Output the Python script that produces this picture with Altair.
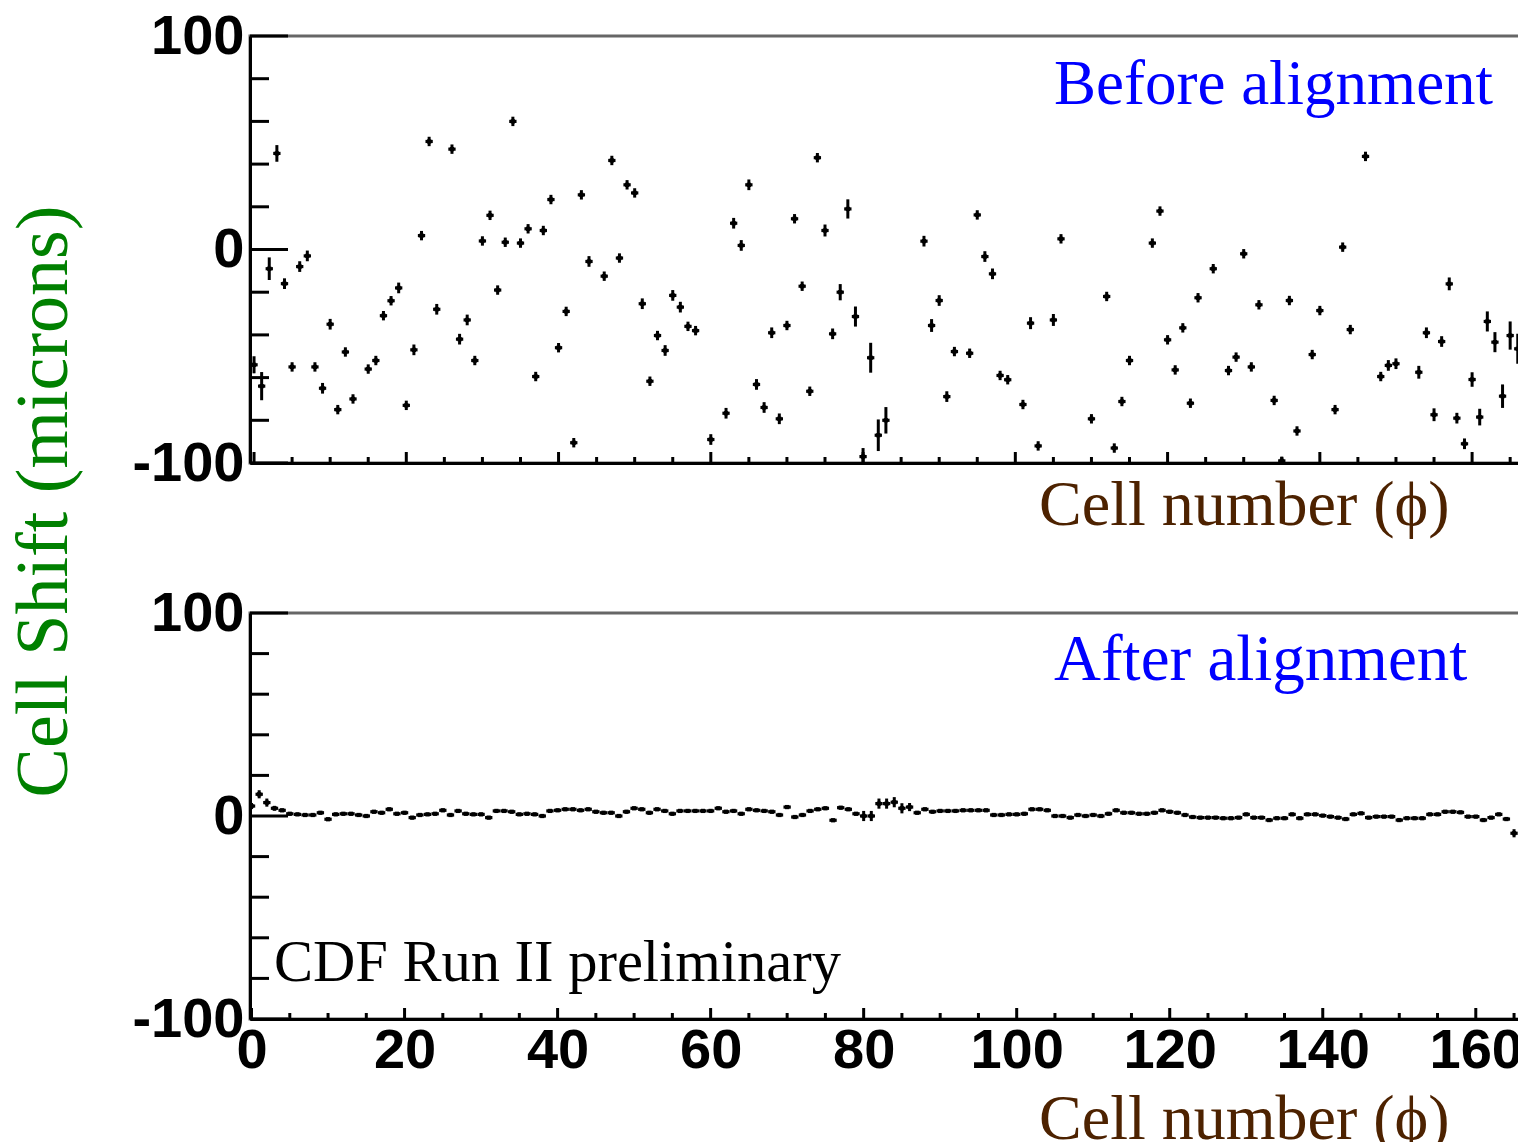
import altair as alt
import pandas as pd

# ---------------- data ----------------
top_cells = list(range(168))
top_shift = [
    -54, -64, -9, 45, -16, -55, -8, -3, -55, -65,
    -35, -75, -48, -70, None, -56, -52, -31, -24, -18,
    -73, -47, 6.5, 50.6, -28, None, 47, -42, -33, -52,
    4, 16, -19, 3.4, 60, 3, 9.7, -59.5, 8.9, 23.4,
    -46, -29, -90.5, 25.6, -5.6, None, -12.5, 41.7, -4, 30.3,
    26.5, -25.4, -61.7, -40.3, -47.3, -21.5, -27, -36, -38, None,
    -89, None, -76.7, 12.3, 1.9, 30.3, -63.2, -74, -39, -79.3,
    -35.6, 14.4, -17.2, -66.4, 43, 8.9, -39.5, -20, 19, -31.4,
    -97, -50.7, -87, -80, None, None, None, None, 3.9, -35.6,
    -23.9, -68.9, -47.8, None, -48.6, 16.2, -3.3, -11.4, -59, -61,
    None, -72.6, -34.5, -92, None, -33, 5, None, None, None,
    -79.3, None, -22, -93, -71.2, -52, None, None, 3, 18,
    -42.3, -56.4, -36.7, -72, -22.6, None, -9, None, -56.7, -50.4,
    -2, -55, -25.9, None, -70.7, -99, -23.9, -85, None, -49.2,
    -28.6, None, -75, 1.1, -37.5, None, 43.6, None, -59.5, -54.3,
    -53.5, None, None, -57.5, -39, -77.4, -43.1, -16.1, -79, -91,
    -60.9, -78.5, -33.7, -43.4, -68.7, -40.3, -46.5, 0,
]
top_err = [
    4, 6.6, 5.3, 3.9, 2.5, 2.2, 2.5, 2.5, 2.2, 2.5,
    2.5, 2.2, 2.2, 2.2, None, 2.2, 2.2, 2.2, 2.2, 2.5,
    2.2, 2.5, 2.2, 2.2, 2.5, None, 2.2, 2.5, 2.5, 2.2,
    2.2, 2.2, 2.2, 2.2, 2.2, 2.2, 2.2, 2.2, 2.2, 2.2,
    2.2, 2.2, 2.2, 2.2, 2.5, None, 2.2, 2.2, 2.2, 2.2,
    2.2, 2.5, 2.2, 2.2, 2.5, 2.5, 2.5, 2.2, 2.2, None,
    2.5, None, 2.5, 2.5, 2.5, 2.5, 2.5, 2.5, 2.5, 2.5,
    2.2, 2.2, 2.2, 2.2, 2.2, 2.8, 2.5, 3.8, 4.5, 4.7,
    4, 7, 7.4, 6.2, None, None, None, None, 2.5, 3,
    2.5, 2.5, 2.2, None, 2.2, 2.2, 2.5, 2.5, 2.2, 2.2,
    None, 2.2, 2.8, 2.2, None, 2.8, 2.2, None, None, None,
    2.2, None, 2.2, 2.2, 2.2, 2.2, None, None, 2.2, 2.2,
    2.2, 2.2, 2.2, 2.2, 2.2, None, 2.2, None, 2.2, 2.2,
    2.2, 2.2, 2.2, None, 2.2, 2, 2.2, 2.2, None, 2.2,
    2.2, None, 2.2, 2.2, 2.2, None, 2.2, None, 2.2, 2.5,
    2.5, None, None, 3, 2.5, 3, 2.5, 3, 2.5, 2.5,
    3.4, 3.9, 4.7, 4.7, 5.5, 6.6, 7, 2.5,
]

bot_cells = list(range(167))
bot_shift = [
    4.9, 10.7, 6.6, 3.8, 2.8, 1.1, 0.8, 0.5, 0.5, 1.6,
    -1.6, 0.8, 1.1, 1.1, 0.5, 0, 2.1, 1.6, 3.3, 1.1,
    1.6, -0.8, 0.5, 0.8, 1.1, 2.8, 0.5, 2.5, 1.1, 0.8,
    0.8, -0.8, 2.5, 2.5, 2.1, 0.8, 1.1, 0.8, 0, 2.5,
    2.8, 3.3, 3.3, 2.8, 3.3, 2.1, 1.6, 1.6, 0, 2.1,
    3.8, 3.3, 1.6, 3.3, 2.5, 1.1, 2.5, 2.5, 2.5, 2.5,
    2.5, 3.8, 2.1, 2.5, 1.1, 3.3, 2.8, 2.5, 2.1, 0.5,
    4.4, -0.5, 0.5, 2.5, 3.3, 3.8, -2.1, 4.1, 3.3, 1.1,
    0, 0, 6.1, 6.1, 6.8, 3.8, 4.4, 1.6, 3.3, 2.1,
    2.5, 2.5, 2.5, 2.8, 2.8, 2.8, 2.8, 0.5, 0.5, 0.8,
    0.8, 1.1, 3.3, 3.3, 2.8, 0, 0, -0.8, 0.5, 0,
    0.5, 0, 1.1, 2.8, 1.6, 1.6, 1.1, 1.1, 1.6, 2.8,
    2.1, 1.6, 0.5, -0.5, -0.8, -0.8, -0.8, -1.1, -1.1, -0.8,
    0.8, -0.8, -0.8, -2, -1.1, -1.1, 0.8, -1.1, 0.8, 0.8,
    0.2, -0.3, -0.8, -1.5, 0.8, 1.3, -0.8, -0.3, -0.3, -0.3,
    -2, -1.1, -1.1, -1.1, 0.8, 0.8, 2.1, 2.1, 1.8, -0.3,
    -0.3, -2, -0.8, 0.8, -1.5, -8.5, -18.4,
]
bot_err = [
    1.5, 2, 2, 1.2, 0.8, 0.8, 0.8, 0.8, 0.8, 0.8,
] + [0.8] * 70 + [2.5, 2.5, 2.5, 2.5, 2.5, 2.5, 2, 0.8, 0.8, 0.8] + [0.8] * 75 + [2, 2.5]

y_minor_ticks = [-80, -60, -40, -20, 20, 40, 60, 80]
y_major_ticks = [-100, 0, 100]
x_major_ticks = [0, 20, 40, 60, 80, 100, 120, 140, 160]
x_minor_ticks = [5, 10, 15, 25, 30, 35, 45, 50, 55, 65, 70, 75, 85, 90, 95,
                 105, 110, 115, 125, 130, 135, 145, 150, 155, 165]
x_label_values = [0, 20, 40, 60, 80, 100, 120, 140, 160]

BROWN = "#4d2200"
GREEN = "#008000"
BLUE = "#0000ff"
SERIF = "Liberation Serif"
SANS = "Liberation Sans"


def make_frame(cells, shift, err, half):
    df = pd.DataFrame({"cell": cells, "shift": shift, "err": err}).dropna()
    df["lo"] = df["shift"] - df["err"]
    df["hi"] = df["shift"] + df["err"]
    df["xlo"] = df["cell"] - half
    df["xhi"] = df["cell"] + half
    return df


def panel(df, xdom, W, H, xaxis, yaxis, label_text, label_x, label_y, label_size, extra_text=None):
    xs = alt.Scale(domain=xdom, nice=False, zero=False)
    ys = alt.Scale(domain=[-100, 100], nice=False, zero=False)

    hbar = alt.Chart(df).mark_rule(color="black", strokeWidth=3.2, clip=True).encode(
        x=alt.X("xlo:Q", scale=xs, axis=xaxis),
        x2="xhi:Q",
        y=alt.Y("shift:Q", scale=ys, axis=yaxis),
    )
    vbar = alt.Chart(df).mark_rule(color="black", strokeWidth=3, clip=True).encode(
        x=alt.X("cell:Q", scale=xs, axis=xaxis),
        y=alt.Y("lo:Q", scale=ys, axis=yaxis),
        y2="hi:Q",
    )
    dot = alt.Chart(df).mark_square(color="black", size=18, opacity=1, clip=True).encode(
        x=alt.X("cell:Q", scale=xs, axis=xaxis),
        y=alt.Y("shift:Q", scale=ys, axis=yaxis),
    )
    ymaj = alt.Chart(pd.DataFrame({"v": y_major_ticks})).mark_rule(color="black", strokeWidth=3).encode(
        y=alt.Y("v:Q", scale=ys, axis=yaxis), x=alt.value(0), x2=alt.value(38)
    )
    ymin = alt.Chart(pd.DataFrame({"v": y_minor_ticks})).mark_rule(color="black", strokeWidth=3).encode(
        y=alt.Y("v:Q", scale=ys, axis=yaxis), x=alt.value(0), x2=alt.value(19)
    )
    xmaj = alt.Chart(pd.DataFrame({"v": x_major_ticks})).mark_rule(color="black", strokeWidth=3).encode(
        x=alt.X("v:Q", scale=xs, axis=xaxis), y=alt.value(H), y2=alt.value(H - 11)
    )
    xmin = alt.Chart(pd.DataFrame({"v": x_minor_ticks})).mark_rule(color="black", strokeWidth=3).encode(
        x=alt.X("v:Q", scale=xs, axis=xaxis), y=alt.value(H), y2=alt.value(H - 6)
    )
    txt = alt.Chart(pd.DataFrame({"t": [label_text]})).mark_text(
        align="left", baseline="alphabetic", font=SERIF, fontSize=label_size, color=BLUE
    ).encode(text="t:N", x=alt.value(label_x), y=alt.value(label_y))
    layers = [hbar, vbar, dot, ymaj, ymin, xmaj, xmin, txt]
    if extra_text is not None:
        t, tx, ty = extra_text
        layers.append(
            alt.Chart(pd.DataFrame({"t": [t]})).mark_text(
                align="left", baseline="alphabetic", font=SERIF, fontSize=58.5, color="black"
            ).encode(text="t:N", x=alt.value(tx), y=alt.value(ty))
        )
    return alt.layer(*layers).properties(width=W, height=H)


top_df = make_frame(top_cells, top_shift, top_err, 0.48)
bot_df = make_frame(bot_cells, bot_shift, bot_err, 0.48)

common_y = dict(values=y_major_ticks, labelExpr="'' + datum.value", ticks=False, grid=False,
                domainColor="black", domainWidth=3, labelFont=SANS, labelFontSize=56,
                labelFontWeight="bold", labelColor="black", labelPadding=6)

top_yaxis = alt.Axis(
    title="Cell Shift (microns)", titleFont=SERIF, titleFontSize=74, titleFontWeight="normal",
    titleColor=GREEN, titleAngle=270, titleX=-206, titleY=465, titleAlign="center",
    titleBaseline="middle", **common_y,
)
bot_yaxis = alt.Axis(title="", **common_y)

xtitle = dict(title="Cell number (ϕ)", titleFont=SERIF, titleFontSize=64, titleFontWeight="normal",
              titleColor=BROWN, titleX=1199, titleAlign="right", titleBaseline="alphabetic")

top_xaxis = alt.Axis(labels=False, ticks=False, grid=False, domainColor="black", domainWidth=3,
                     titleY=61, **xtitle)
bot_xaxis = alt.Axis(values=x_label_values, labelExpr="'' + datum.value", ticks=False, grid=False,
                     domainColor="black", domainWidth=3, labelFont=SANS, labelFontSize=56,
                     labelFontWeight="bold", labelColor="black", labelPadding=4,
                     labelFlush=False, labelOverlap=False, titleY=119, **xtitle)

top = panel(top_df, [-0.53, 168], 1283, 427, top_xaxis, top_yaxis, "Before alignment", 804, 68, 63)
bottom = panel(bot_df, [-0.2, 168], 1287, 406, bot_xaxis, bot_yaxis, "After alignment", 804, 67, 65,
               extra_text=("CDF Run II preliminary", 24, 368))

chart = alt.vconcat(top, bottom, spacing=150, bounds="flush").resolve_scale(
    x="independent", y="independent"
).properties(
    padding={"left": -3, "top": -2, "right": -21, "bottom": -11},
    background="white",
).configure_view(stroke="#666666", strokeWidth=3)

chart.save("out.html", embed_options={"renderer": "svg", "actions": False})
